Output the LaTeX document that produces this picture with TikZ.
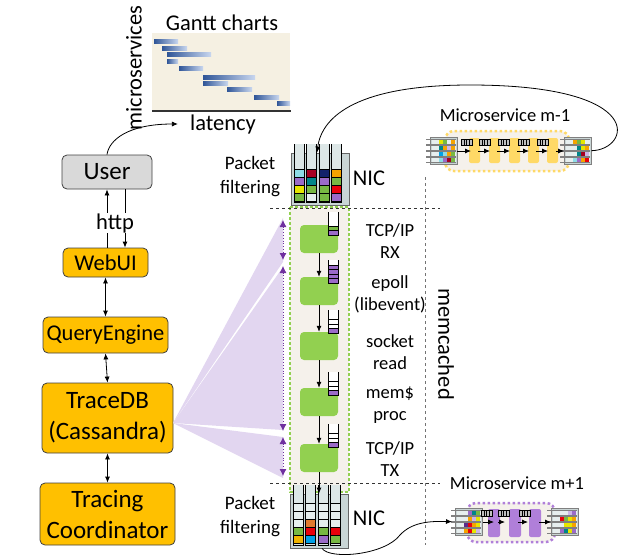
\documentclass[tikz,border=0pt]{standalone}
\usepackage{fontspec}
\setmainfont{Carlito}
\usetikzlibrary{arrows.meta,calc}
\definecolor{orangebox}{HTML}{FFC000}
\definecolor{userg}{HTML}{D9D9D9}
\definecolor{gbg}{HTML}{F5F0E2}
\definecolor{gdark}{HTML}{2F5597}
\definecolor{glight}{HTML}{C9D7EF}
\definecolor{lilac}{HTML}{E2D6F0}
\definecolor{pdark}{HTML}{7030A0}
\definecolor{mcbg}{HTML}{F5F1EB}
\definecolor{lgreen}{HTML}{92D050}
\definecolor{nicg}{HTML}{C9D5D5}
\definecolor{tubeg}{HTML}{DDE7E7}
\definecolor{ylw}{HTML}{FFD966}
\definecolor{mpurple}{HTML}{B07FD9}
\definecolor{cyanc}{HTML}{8EDCE6}
\definecolor{purc}{HTML}{9B6BC8}
\definecolor{yelc}{HTML}{E6E600}
\definecolor{grnc}{HTML}{77B843}
\definecolor{dredc}{HTML}{A50021}
\definecolor{tealc}{HTML}{00858A}
\definecolor{navyc}{HTML}{12226B}
\definecolor{orgc}{HTML}{F5A300}
\definecolor{goldc}{HTML}{F0B400}
\definecolor{redc}{HTML}{E8000B}
\definecolor{brc}{HTML}{E07A2E}
\definecolor{bluec}{HTML}{00A0E6}
\definecolor{lavc}{HTML}{CDB5E8}
\definecolor{emptyc}{HTML}{E6EEEE}
\definecolor{dpur}{HTML}{5B2C8C}

\newcommand\mininic[4]{%
  \node[draw=black!50, fill=nicg, minimum width=27pt, minimum height=27pt, inner sep=0pt, anchor=north west] (#1) at (#2,#3) {};
  \foreach \r in {0,...,3} {
    \fill[emptyc] (#2+1.5,#3+2.5+\r*6) rectangle ++(24,4.5);
    \draw[black!50, line width=0.4pt] (#2-4,#3+2.5+\r*6) -- ++(29.5,0) (#2-4,#3+7+\r*6) -- ++(29.5,0);
  }
  \foreach \c [count=\k from 0] in {#4} {
    \pgfmathtruncatemacro\mrow{int(\k/4)}
    \pgfmathtruncatemacro\mcol{mod(\k,4)}
    \fill[\c] (#2+8.5+\mcol*4.3,#3+2.5+\mrow*6) rectangle ++(4,4.5);
  }
}
\newcommand\qtube[3]{%
  \fill[white] (#1,#2-23) rectangle (#1+10,#2);
  \foreach \c [count=\k from 1] in {#3} {\filldraw[fill=\c, draw=black, line width=0.5pt] (#1,#2-\k*4.5) rectangle ++(10,4.5);}
  \draw[line width=0.7pt] (#1,#2-23) -- (#1,#2) -- (#1+10,#2) -- (#1+10,#2-23);
}
\newcommand\minq[2]{%
  \filldraw[fill=black!25, draw=black, line width=0.5pt] (#1,#2) rectangle ++(11,6);
  \draw[line width=0.5pt] (#1+2.75,#2) -- ++(0,6) (#1+5.5,#2) -- ++(0,6) (#1+8.25,#2) -- ++(0,6);
}

\begin{document}
\begin{tikzpicture}[x=1pt,y=-1pt,
  box/.style={draw=black!75, line width=0.8pt, rounded corners=5pt, align=center, inner sep=0pt},
  obox/.style={box, fill=orangebox},
  arr/.style={-{Latex[length=6pt,width=5pt]}, line width=0.8pt},
  darr/.style={{Latex[length=6pt,width=5pt]}-{Latex[length=6pt,width=5pt]}, line width=0.8pt},
  t25/.style={font=\fontsize{25}{31}\selectfont},
  t22/.style={font=\fontsize{22.5}{27}\selectfont},
  t19/.style={font=\fontsize{19}{24}\selectfont, align=center, inner sep=0pt},
  t18/.style={font=\fontsize{18.5}{22}\selectfont, align=center, inner sep=0pt},
  gbox/.style={fill=lgreen, rounded corners=4pt, minimum width=38pt, minimum height=28pt, inner sep=0pt},
  pdot/.style={pdark, dotted, line width=0.8pt, {Latex[length=7pt,width=7pt]}-{Latex[length=7pt,width=7pt]}},
]
\useasboundingbox (0,0) rectangle (621,555);

% ---------- Gantt chart ----------
\fill[gbg] (152,33) rectangle (290,111);
\foreach \a/\b/\y in {154/178/39, 162/187/46, 167/211/52, 167/178/59, 179/203/66, 203/255/75, 203/228/81, 227/252/87, 254/279/95, 277/290/101}
  {\shade[left color=gdark, right color=glight] (\a,\y) rectangle (\b,\y+4);}
\draw[line width=1.2pt, black!80] (152,111) -- (291,111);
\node[t22, inner sep=0pt] (gantt) at (222,23) {Gantt charts};
\node[t22, inner sep=0pt] (latency) at (223,124) {latency};
\node[t22, inner sep=0pt, rotate=90] (micro) at (134,68) {microservices};

% ---------- left column ----------
\node[box, fill=userg, t25, minimum width=90pt, minimum height=34pt] (user) at (107,172) {User};
\node[obox, t22, minimum width=85pt, minimum height=29pt] (webui) at (105.5,262.5) {WebUI};
\node[obox, t22, minimum width=125pt, minimum height=36pt] (qe) at (105.5,335) {QueryEngine};
\node[obox, t25, minimum width=131pt, minimum height=70pt] (tracedb) at (107.5,418) {TraceDB\\(Cassandra)};
\node[obox, t25, minimum width=135pt, minimum height=62pt] (tc) at (107.5,514) {Tracing\\Coordinator};

\coordinate (lx) at (107,0);
\coordinate (rx) at (125,0);
\draw[arr] (webui.north -| lx) -- (user.south -| lx);
\draw[arr] (user.south -| rx) -- (webui.north -| rx);
\node[t22, fill=white, inner sep=0.5pt] (http) at (115,223) {http};
\draw[darr] (webui.south) -- (qe.north);
\draw[darr] (qe.south) -- (tracedb.north);
\draw[darr] (tracedb.south) -- (tc.north);

\draw[arr] (user.north) .. controls (109,140) and (128,124) .. ([xshift=-12pt]latency.west);

% ---------- purple fans ----------
\coordinate (apex) at (173,423);
\fill[lilac] (apex) -- (283,218) -- (283,262) -- cycle;
\fill[lilac] (apex) -- (283,267) -- (283,430) -- cycle;
\fill[lilac] (apex) -- (283,437) -- (283,478) -- cycle;
\draw[pdot] (283,220) -- (283,260);
\draw[pdot] (283,266) -- (283,431);
\draw[pdot] (283,437) -- (283,476);

% ---------- memcached column ----------
\fill[mcbg] (290,207) rectangle (349,492);
\draw[lgreen, line width=2.6pt, dash pattern=on 2.6pt off 2.4pt] (290,207) rectangle (349,492);
\draw[black!80, dashed, line width=0.8pt] (270,208) -- (440,208);
\draw[black!80, dashed, line width=0.8pt] (270,483) -- (440,483);
\draw[black!55, dashed, line width=1pt] (425,177) -- (425,545);

\node[gbox] (g1) at (319,239) {};
\node[gbox] (g2) at (319,291) {};
\node[gbox] (g3) at (319,346) {};
\node[gbox] (g4) at (319,402) {};
\node[gbox] (g5) at (319,458) {};
\qtube{328}{235}{purc,grnc}
\qtube{328}{283}{purc,purc,purc,purc}
\qtube{328}{333}{purc,white,white}
\qtube{328}{395}{purc,white,white}
\qtube{328}{447}{purc,white,white}

\node[t18] (l1) at (390,241) {TCP/IP\\RX};
\node[t18] (l2) at (390,294) {epoll\\(libevent)};
\node[t18] (l3) at (390,352) {socket\\read};
\node[t18] (l4) at (390,405) {mem\$\\proc};
\node[t18] (l5) at (390,459) {TCP/IP\\TX};
\node[t22, inner sep=0pt, rotate=-90] (memc) at (446,344) {memcached};

% ---------- NICs ----------
\node[draw=black!60, fill=nicg, line width=0.8pt, minimum width=58pt, minimum height=52pt, inner sep=0pt] (nictop) at (320,179) {};
\foreach \i in {0,...,3} {\fill[tubeg] (294+\i*12.5,144) rectangle ++(10,58);}
\foreach \i/\cols in {0/{cyanc,purc,yelc,grnc},1/{dredc,tealc,grnc,emptyc},2/{navyc,purc,grnc,grnc},3/{orgc,grnc,redc,purc}}
  {\foreach \c [count=\r from 0] in \cols {\filldraw[fill=\c, draw=black, line width=0.5pt] (294+\i*12.5,169+\r*8) rectangle ++(10,8);}}
\foreach \i in {0,...,3} {\draw[line width=0.7pt] (294+\i*12.5,144) -- (294+\i*12.5,202) -- ++(10,0) -- ++(0,-58);}

\node[draw=black!60, fill=nicg, line width=0.8pt, minimum width=58pt, minimum height=54pt, inner sep=0pt] (nicbot) at (319,521) {};
\foreach \i in {0,...,3} {\fill[tubeg] (293+\i*12.5,485) rectangle ++(10,60);}
\foreach \i/\cols in {0/{emptyc,emptyc,emptyc,grnc,goldc},1/{emptyc,emptyc,brc,redc,bluec},2/{emptyc,emptyc,emptyc,grnc,purc},3/{emptyc,emptyc,emptyc,redc,grnc}}
  {\foreach \c [count=\r from 0] in \cols {\filldraw[fill=\c, draw=black, line width=0.5pt] (293+\i*12.5,503+\r*8) rectangle ++(10,8);}}
\foreach \i in {0,...,3} {\draw[line width=0.7pt] (293+\i*12.5,485) -- (293+\i*12.5,545) -- ++(10,0) -- ++(0,-60);}

\draw[arr] (g1.south) -- (g2.north);
\draw[arr] (g2.south) -- (g3.north);
\draw[arr] (g3.south) -- (g4.north);
\draw[arr] (g4.south) -- (g5.north);
\draw[arr] (g5.south) -- (nicbot.north);

\node[t19] (pf1) at (250,177) {Packet\\filtering};
\node[t19] (pf2) at (250,517) {Packet\\filtering};
\node[t22, inner sep=0pt] (nic1) at (369,178) {NIC};
\node[t22, inner sep=0pt] (nic2) at (369,518) {NIC};

% ---------- Microservice m-1 ----------
\node[t18] (mlab1) at (505,115) {Microservice m-1};
\filldraw[fill=mcbg, draw=ylw, line width=2.5pt, dash pattern=on 2.5pt off 2.5pt, rounded corners=9pt] (445,131) rectangle (569,171);
\foreach \a in {469,489,509,528,547} {\fill[ylw, rounded corners=2pt] (\a,138) rectangle ++(11,25);}
\mininic{mL1}{430}{137}{yelc,grnc,emptyc,orgc, tealc,orgc,lavc,orgc, bluec,cyanc,orgc,grnc, cyanc,purc,dredc,grnc}
\mininic{mR1}{564}{137}{orgc,grnc,yelc,emptyc, emptyc,tealc,yelc,orgc, emptyc,tealc,dredc,lavc, cyanc,purc,orgc,redc}
\foreach \a in {461,479,498,518,537} {\minq{\a}{139}}
\foreach \a/\b in {457/471, 478/490, 497/510, 517/529, 536/548, 556/564} {\draw[arr] (\a,151) -- (\b,151);}

% ---------- Microservice m+1 ----------
\node[t18] (mlab2) at (517,483) {Microservice m+1};
\filldraw[fill=mcbg, draw=mpurple, line width=2.5pt, dash pattern=on 2.5pt off 2.5pt, rounded corners=9pt] (467,503) rectangle (555,542);
\foreach \a in {488,509,529} {\fill[mpurple, rounded corners=2pt] (\a,509) rectangle ++(12,28);}
\mininic{mL2}{455}{508}{emptyc,purc,tealc,grnc, emptyc,orgc,lavc,yelc, dpur,redc,orgc,yelc, orgc,redc,yelc,lavc}
\mininic{mR2}{551}{508}{emptyc,emptyc,lavc,purc, redc,grnc,yelc,orgc, emptyc,yelc,yelc,orgc, purc,tealc,yelc,purc}
\foreach \a in {481,498,519} {\minq{\a}{510}}
\foreach \a/\b in {483/494, 498/505, 518/528, 539/551} {\draw[arr] (\a,522) -- (\b,522);}

% ---------- long connectors ----------
\draw[arr] (mR1.east) .. controls (630,150) and (650,85) .. (470,85) .. controls (360,85) and (322,115) .. ([xshift=-3pt]nictop.north);
\draw[arr] ([xshift=3pt]nicbot.south) .. controls (330,560) and (385,555) .. (400,535) .. controls (412,522) and (430,521) .. ([xshift=-3pt]mL2.west);
\end{tikzpicture}
\end{document}
